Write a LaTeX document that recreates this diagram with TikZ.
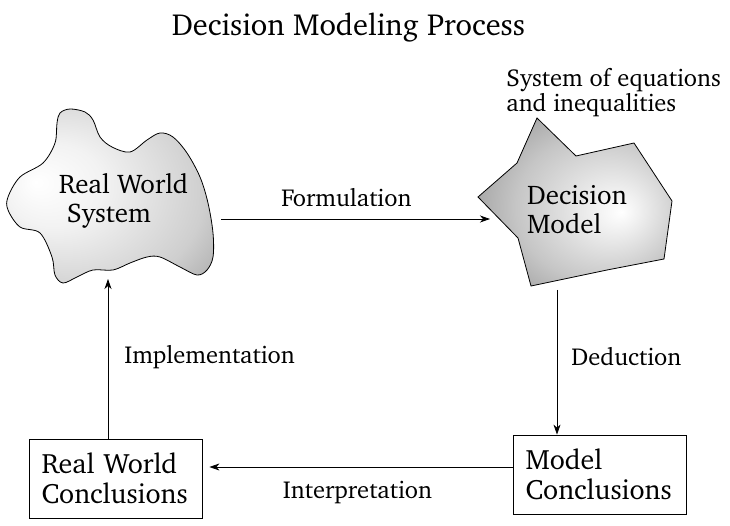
\documentclass[tikz,border=0pt]{standalone}
\usepackage[T1]{fontenc}
\usepackage{charter}
\usetikzlibrary{arrows.meta, positioning}

\newcommand{\dmtitlefont}{\fontsize{30.5}{34}\selectfont}
\newcommand{\dmnodefont}{\fontsize{27}{29}\selectfont}
\newcommand{\dmboxfont}{\fontsize{28}{30}\selectfont}
\newcommand{\dmlabelfont}{\fontsize{24.5}{25}\selectfont}

\pgfdeclareradialshading{worldshade}{\pgfpoint{-18bp}{4bp}}{color(0bp)=(white); color(12bp)=(gray!10); color(30bp)=(gray!38); color(48bp)=(gray!92); color(50bp)=(gray!95)}
\pgfdeclareradialshading{modelshade}{\pgfpoint{12bp}{-3bp}}{color(0bp)=(white); color(6bp)=(gray!12); color(22bp)=(gray!45); color(40bp)=(gray!95); color(50bp)=(gray)}

\tikzset{
  stagebox/.style={draw, rectangle, align=left, text width=148pt, inner xsep=12.5pt, minimum height=79pt, font=\dmboxfont},
  shapetext/.style={align=left, inner sep=0pt, font=\dmnodefont},
  steplabel/.style={inner sep=0pt, font=\dmlabelfont},
}

\begin{document}
\begin{tikzpicture}[x=1pt, y=-1pt, >={Stealth[length=10pt, width=7pt, inset=3pt]}, line width=0.8pt]
    \useasboundingbox (0,0) rectangle (730,526);

    % Title
    \node[anchor=base, inner sep=0pt, font=\dmtitlefont] (title) at (348.5,36) {Decision Modeling Process};

    % Real world system (blob)
    \draw[shade, shading=worldshade] plot[smooth cycle, tension=0.55] coordinates {
        (70,109) (85,112) (93,120) (100,137) (112,147) (130,152) (147,140) (160,133)
        (173,137) (187,153) (200,177) (208,203) (213,233) (213,257) (207,270) (197,275)
        (180,267) (160,257) (147,257) (130,263) (113,270) (93,270) (77,277) (63,283)
        (55,275) (52,257) (40,233) (20,227) (8,210) (8,197) (20,177) (43,163)
        (55,143) (57,123) (60,113)};
    \node[shapetext] (rws) at (123.5,201) {Real World\\\hspace*{8pt}System};
    \coordinate (rwsE) at (221,219);
    \coordinate (rwsS) at (108,279);

    % Decision model (polygon)
    \draw[shade, shading=modelshade] (537,118) -- (576,156) -- (634,143) -- (672,201)
        -- (664,259) -- (607,270) -- (531,286) -- (518,238) -- (478,197) -- (517,163) -- cycle;
    \node[shapetext] (dm) at (577,210) {Decision\\Model};
    \node[steplabel, anchor=north west, align=left] (eqs) at (506,68) {System of equations\\and inequalities};
    \coordinate (dmW) at (490,219);
    \coordinate (dmS) at (557,290);

    % Conclusions
    \node[stagebox] (mc) at (599.5,474.5) {Model\\Conclusions};
    \node[stagebox] (rwc) at (115.5,478.5) {Real World\\Conclusions};

    % Arrows
    \draw[->] (rwsE) -- node[steplabel, pos=0.466, above=12pt] (form) {Formulation} (dmW);
    \draw[->] (dmS) -- node[steplabel, pos=0.46, right=14pt] (ded) {Deduction} (dmS |- mc.north);
    \draw[->, shorten >=7pt] ([yshift=7.5pt]mc.west) -- node[steplabel, below=14pt] (interp) {Interpretation} ([yshift=7.5pt]mc.west -| rwc.east);
    \draw[->] ([xshift=-7.5pt]rwc.north) -- node[steplabel, pos=0.51, right=16pt] (impl) {Implementation} (rwsS);

\end{tikzpicture}
\end{document}
